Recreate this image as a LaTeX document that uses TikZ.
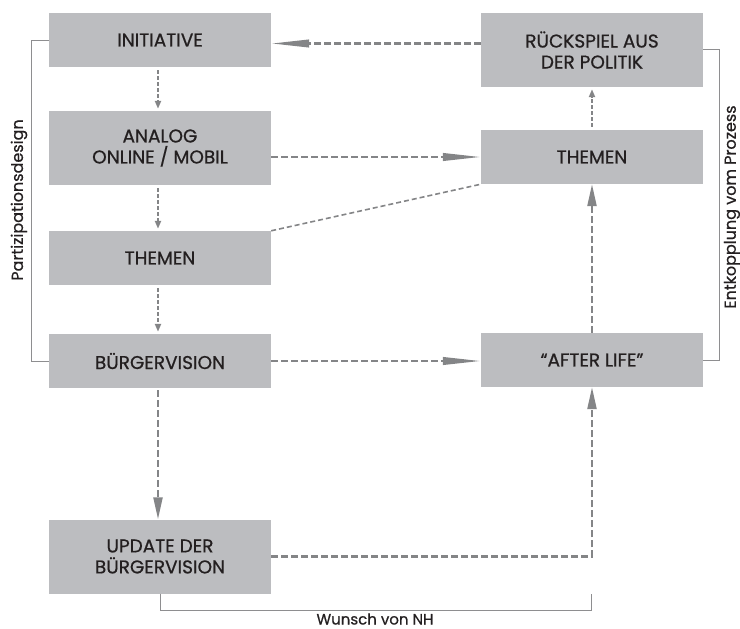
\documentclass[tikz,border=0pt]{standalone}
\usepackage{fontspec}
\setmainfont{Poppins}
\newfontfamily\stagefont{Poppins}[FakeBold=0.7]
\usetikzlibrary{arrows.meta}
\definecolor{boxgray}{HTML}{BCBDC0}
\definecolor{ink}{HTML}{231F20}
\definecolor{linkgray}{HTML}{848587}
\definecolor{bracegray}{HTML}{8E8E90}
\begin{document}
\begin{tikzpicture}[x=1pt,y=-1pt,
  stage/.style={fill=boxgray, text=ink, align=center, inner sep=0pt,
    minimum width=222pt, font=\stagefont\fontsize{18.5}{21}\selectfont},
  flat/.style={stage, minimum height=54pt},
  tall/.style={stage, minimum height=74pt},
  biglink/.style={draw=linkgray, line width=2.3pt, dash pattern=on 7pt off 3pt},
  smalllink/.style={draw=linkgray, line width=2.2pt, dash pattern=on 4pt off 2pt,
    -{Triangle[length=8pt,width=6pt]}, shorten <=3pt, shorten >=2pt},
  sidetip/.style={-{Triangle[length=38pt,width=7.5pt]}},
  uptip/.style={-{Triangle[length=22pt,width=9pt]}},
  thinlink/.style={draw=linkgray, line width=1.6pt, dash pattern=on 5pt off 3pt},
  bracket/.style={draw=bracegray, line width=1pt},
  side/.style={text=ink, font=\stagefont\fontsize{16}{18}\selectfont, inner sep=0pt}]
\useasboundingbox (0,0) rectangle (740,629);

% left column
\node[flat] (init)    at (160,40)    {INITIATIVE};
\node[tall] (analog)  at (160,148)   {ANALOG\\ONLINE / MOBIL};
\node[flat] (themenL) at (160,258)   {THEMEN};
\node[flat] (buerger) at (160,361)   {BÜRGERVISION};
\node[tall] (update)  at (160,556.5) {UPDATE DER\\BÜRGERVISION};

% right column
\node[tall] (rueck)   at (592,50)  {RÜCKSPIEL AUS\\DER POLITIK};
\node[flat] (themenR) at (592,157) {THEMEN};
\node[flat] (after)   at (592,360) {“AFTER LIFE”};

% flow down the left column
\draw[smalllink] ([xshift=-2pt]init.south) -- ([xshift=-2pt]analog.north);
\draw[smalllink] ([xshift=-2pt]analog.south) -- ([xshift=-2pt]themenL.north);
\draw[smalllink] ([xshift=-2pt]themenL.south) -- ([xshift=-2pt]buerger.north);
\draw[biglink, uptip, shorten <=2pt] ([xshift=-2pt]buerger.south) -- ([xshift=-2pt]update.north);

% links across
\draw[biglink, sidetip] ([yshift=6.5pt]rueck.west) -- ([yshift=-3.5pt]init.east);
\draw[biglink, sidetip] (themenR.west -| analog.east) -- (themenR.west);
\draw[biglink, sidetip] (buerger.east) -- (after.west |- buerger.east);
\draw[thinlink] (themenL.north east) -- (themenR.south west);

% flow up the right column
\draw[biglink, uptip] (update.east) -| (after.south);
\draw[biglink, uptip] (after.north) -- (themenR.south);
\draw[smalllink] (themenR.north) -- (rueck.south);

% brackets with their captions
\draw[bracket] (init.west) -- ++(-17,0) |- (buerger.west);
\node[side, rotate=90] (partdesign) at (19,200) {Partizipationsdesign};

\draw[bracket] ([yshift=1pt]rueck.east) -- ++(16,0) |- (after.east);
\node[side, rotate=90] (entkopplung) at (732,207) {Entkopplung vom Prozess};

\coordinate (nhend) at (591,594);
\draw[bracket] (update.south) -- ++(0,17) -| (nhend);
\node[side, anchor=base, font=\stagefont\fontsize{15}{17}\selectfont] (wunsch) at (375,624.5) {Wunsch von NH};
\end{tikzpicture}
\end{document}
